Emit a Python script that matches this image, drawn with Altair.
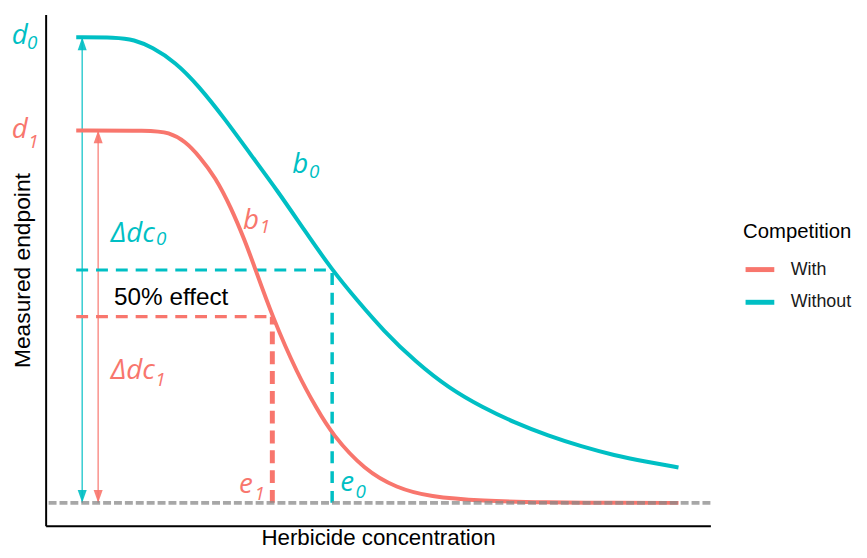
import altair as alt
import pandas as pd

# ---------------- data ----------------
groups = ["With", "Without"]
palette = ["#F8766D", "#00BFC4"]

# fitted response curves (x = herbicide concentration, y = measured endpoint, % of d0)
with_x = [4.6, 15.9, 18.5, 21.0, 23.2, 25.5, 27.9, 30.0, 31.4, 34.1, 37.9, 40.8,
          43.1, 48.0, 52.8, 57.7, 65.7, 75.1, 85.5, 95.2]
with_y = [80.0, 80.0, 79.6, 77.7, 74.3, 70.0, 63.4, 56.2, 50.8, 40.0, 27.6, 20.2,
          14.7, 7.0, 3.2, 1.3, 0.4, 0.1, 0.0, 0.0]
without_x = [4.6, 10.6, 13.3, 16.0, 19.5, 23.0, 27.0, 30.9, 34.9, 38.9, 43.1, 46.8,
             50.8, 55.7, 60.7, 65.7, 70.6, 75.6, 80.6, 85.5, 90.5, 95.2]
without_y = [100.0, 100.0, 99.5, 97.9, 94.7, 89.6, 82.4, 74.7, 67.0, 58.6, 50.0, 43.6,
             37.0, 30.2, 24.6, 20.5, 17.2, 14.4, 12.1, 10.2, 8.8, 7.6]

# model parameters
upper_d = [80.0, 100.0]        # d1, d0
lower_c = [0.0, 0.0]           # common lower limit
ed50 = [34.1, 43.1]            # e1, e0
half_effect = [40.0, 50.0]     # 50 % effect level
curve_start = [4.6, 4.6]
arrow_x = [7.9, 5.5]           # position of the delta-dc arrows

# italic annotation labels: main glyphs and their subscripts
label_txt = ["d", "d", "b", "b", "Δdc", "Δdc", "e", "e"]
label_grp = ["Without", "With", "Without", "With", "Without", "With", "With", "Without"]
label_x = [-5.1, -5.1, 37.1, 29.7, 9.8, 9.8, 29.1, 44.3]
label_y = [98.5, 78.3, 70.9, 58.9, 56.0, 26.6, 2.1, 2.6]
sub_txt = ["0", "1", "0", "1", "0", "1", "1", "0"]
sub_x = [-2.8, -2.6, 39.6, 32.2, 16.6, 16.5, 31.4, 46.6]
sub_y = [97.4, 76.2, 69.8, 57.9, 55.3, 25.1, 0.6, 1.1]

effect_text = ["50% effect"]
effect_x = [10.3]
effect_y = [42.6]

# ---------------- tables ----------------
curves = pd.concat([
    pd.DataFrame({"x": with_x, "y": with_y, "Competition": "With"}),
    pd.DataFrame({"x": without_x, "y": without_y, "Competition": "Without"}),
], ignore_index=True)

params = pd.DataFrame({
    "Competition": groups, "d": upper_d, "c": lower_c, "e": ed50,
    "half": half_effect, "start": curve_start, "ax": arrow_x,
})

labels = pd.DataFrame({"txt": label_txt, "Competition": label_grp, "x": label_x, "y": label_y})
subs = pd.DataFrame({"txt": sub_txt, "Competition": label_grp, "x": sub_x, "y": sub_y})
effect = pd.DataFrame({"txt": effect_text, "x": effect_x, "y": effect_y})

color_scale = alt.Scale(domain=groups, range=palette)
xs = alt.Scale(domain=[0, 100], nice=False, zero=False)
ys = alt.Scale(domain=[-4.9, 104.9], nice=False, zero=False)

x_axis = alt.Axis(title="Herbicide concentration", labels=False, ticks=False, grid=False,
                  domainColor="black", domainWidth=2, titleFontSize=22.5,
                  titleFont="Liberation Sans", titleFontWeight="normal",
                  titleColor="black", titlePadding=1)
y_axis = alt.Axis(title="Measured endpoint", labels=False, ticks=False, grid=False,
                  domainColor="black", domainWidth=2, titleFontSize=23,
                  titleFont="Liberation Sans", titleFontWeight="normal",
                  titleColor="black", titlePadding=11)


def only(g):
    return alt.datum.Competition == g


layers = []

# invisible anchor layer carrying the axes
layers.append(
    alt.Chart(params).mark_rule(opacity=0).encode(
        x=alt.X("ax:Q", scale=xs, axis=x_axis),
        y=alt.Y("c:Q", scale=ys, axis=y_axis),
    )
)

# arrows (delta dc)
for g, col in zip(groups, palette):
    base = alt.Chart(params).transform_filter(only(g))
    layers.append(base.mark_rule(strokeWidth=1.6, opacity=0.75, color=col)
                  .encode(x="ax:Q", y="c:Q", y2="d:Q"))
    layers.append(base.mark_point(shape="M0,0L-0.7,2L0.7,2Z", size=169, filled=True,
                                  opacity=0.9, color=col)
                  .encode(x="ax:Q", y="d:Q"))
    layers.append(base.mark_point(shape="M0,0L-0.7,-2L0.7,-2Z", size=169, filled=True,
                                  opacity=0.9, color=col)
                  .encode(x="ax:Q", y="c:Q"))

# dashed 50 % effect guides
teal_base = alt.Chart(params).transform_filter(only("Without"))
red_base = alt.Chart(params).transform_filter(only("With"))
layers.append(teal_base.mark_rule(strokeWidth=3, strokeDash=[12, 8], color=palette[1])
              .encode(x="start:Q", x2="e:Q", y="half:Q"))
layers.append(teal_base.mark_rule(strokeWidth=3.5, strokeDash=[12, 8], color=palette[1])
              .encode(x="e:Q", y="c:Q", y2="half:Q"))
layers.append(red_base.mark_rule(strokeWidth=3.5, strokeDash=[12, 8], color=palette[0])
              .encode(x="start:Q", x2="e:Q", y="half:Q"))
layers.append(red_base.mark_rule(strokeWidth=5, strokeDash=[13, 7], color=palette[0])
              .encode(x="e:Q", y="c:Q", y2="half:Q"))

# curves (with the legend)
layers.append(
    alt.Chart(curves).mark_line(strokeWidth=4, interpolate="basis").encode(
        x="x:Q", y="y:Q",
        color=alt.Color("Competition:N", scale=color_scale,
                        legend=alt.Legend(title="Competition", orient="none",
                                          legendX=704, legendY=210,
                                          symbolType="stroke", symbolStrokeWidth=5,
                                          symbolSize=841, rowPadding=6,
                                          titleFontSize=20.5, titleFont="Liberation Sans",
                                          titleFontWeight="normal", titleColor="black",
                                          titlePadding=10,
                                          labelFontSize=18, labelFont="Liberation Sans",
                                          labelColor="#1a1a1a", labelOffset=14)),
    )
)

# lower limit (common baseline), drawn over the curves
layers.append(red_base.mark_rule(strokeWidth=4, strokeDash=[8, 3], color="#8a8a8a",
                                 opacity=0.75).encode(y="c:Q"))

# italic annotations
for g, col in zip(groups, palette):
    layers.append(alt.Chart(labels).transform_filter(only(g)).mark_text(
        font="Open Sans", fontStyle="italic", fontSize=28, align="left",
        baseline="alphabetic", color=col).encode(x="x:Q", y="y:Q", text="txt:N"))
    layers.append(alt.Chart(subs).transform_filter(only(g)).mark_text(
        font="Open Sans", fontStyle="italic", fontSize=19, align="left",
        baseline="alphabetic", color=col).encode(x="x:Q", y="y:Q", text="txt:N"))

layers.append(alt.Chart(effect).mark_text(
    font="Liberation Sans", fontSize=24.5, align="left", baseline="alphabetic",
    color="black").encode(x="x:Q", y="y:Q", text="txt:N"))

chart = alt.layer(*layers).properties(
    width=671, height=516,
    autosize=alt.AutoSizeParams(type="none"),
    padding={"left": 38, "top": 4, "right": 150, "bottom": 22},
).configure_view(stroke=None)

chart.save("out.html", embed_options={"renderer": "svg", "actions": False})
